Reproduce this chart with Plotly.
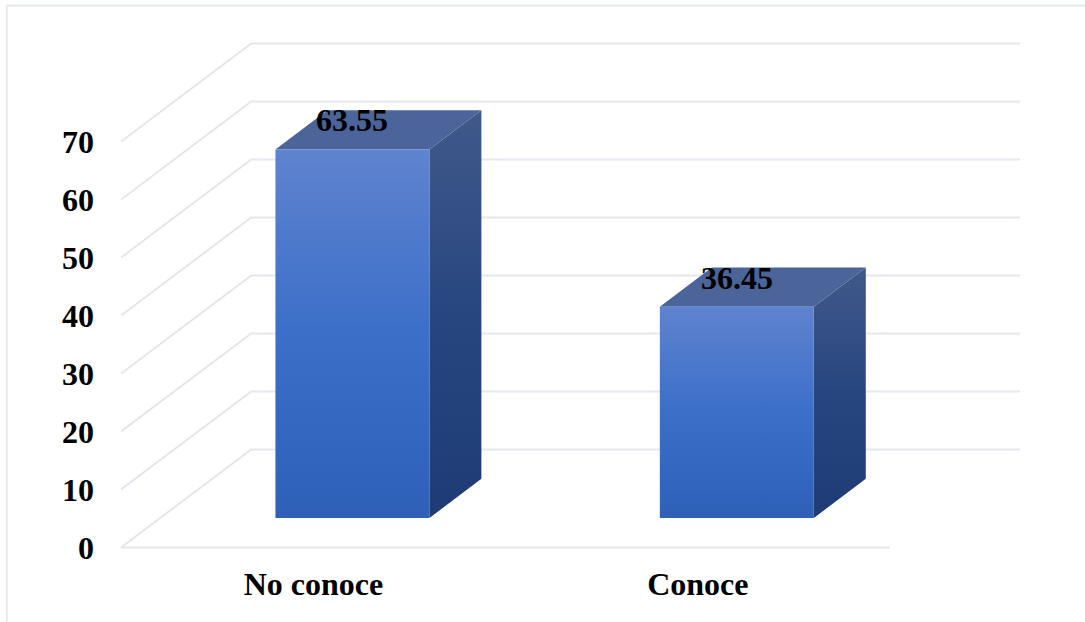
import plotly.graph_objects as go

# Chart data
categories = ["No conoce", "Conoce"]
values = [63.55, 36.45]
y_ticks = [0, 10, 20, 30, 40, 50, 60, 70]

# Oblique projection of the 3D-style chart box, in axis units
WIDTH, HEIGHT = 1085, 622
PX_PER_X = 384.5
PX_PER_Y = 5.8
X_MIN, Y_MIN = -0.05, -2.0
M_L = 121 + X_MIN * PX_PER_X
M_R = 60
M_T = 40
M_B = 74.5 + Y_MIN * PX_PER_Y
DEPTH_X = 130 / PX_PER_X
DEPTH_Y = 98 / PX_PER_Y
BAR_HALF = 77 / PX_PER_X
BAR_D0, BAR_D1 = 0.3, 0.7

GRID = "#e4e7ee"
FONT = "Liberation Serif"
FRONT_SCALE = [[0, "#2e60b8"], [0.5, "#3b6fc8"], [1, "#5f83cf"]]
SIDE_SCALE = [[0, "#1e3b75"], [0.5, "#27467f"], [1, "#41598b"]]
TOP_COLOR = "#4b6499"


def project(x, value, depth):
    return x + depth * DEPTH_X, value + depth * DEPTH_Y


def polygon(points, **kw):
    xs = [p[0] for p in points] + [points[0][0]]
    ys = [p[1] for p in points] + [points[0][1]]
    return go.Scatter(x=xs, y=ys, mode="lines", fill="toself", hoverinfo="skip",
                      showlegend=False, **kw)


def grid_line(points):
    return go.Scatter(x=[p[0] for p in points], y=[p[1] for p in points], mode="lines",
                      line=dict(color=GRID, width=2), hoverinfo="skip", showlegend=False)


fig = go.Figure()

# Floor front edge, then wall lines running from the front-left corner to the back
fig.add_trace(grid_line([project(0, 0, 0), project(2, 0, 0)]))
for t in y_ticks:
    fig.add_trace(grid_line([project(0, t, 0), project(0, t, 1), project(2, t, 1)]))

# Each column: side face, top face, front face
annotations = []
for i, (name, v) in enumerate(zip(categories, values)):
    c = i + 0.5
    l, r = c - BAR_HALF, c + BAR_HALF
    fig.add_trace(polygon(
        [project(r, 0, BAR_D0), project(r, 0, BAR_D1), project(r, v, BAR_D1), project(r, v, BAR_D0)],
        line=dict(width=0),
        fillgradient=dict(type="vertical", colorscale=SIDE_SCALE),
    ))
    fig.add_trace(polygon(
        [project(l, v, BAR_D0), project(r, v, BAR_D0), project(r, v, BAR_D1), project(l, v, BAR_D1)],
        line=dict(width=0),
        fillcolor=TOP_COLOR,
    ))
    fig.add_trace(polygon(
        [project(l, 0, BAR_D0), project(r, 0, BAR_D0), project(r, v, BAR_D0), project(l, v, BAR_D0)],
        line=dict(width=0),
        fillgradient=dict(type="vertical", colorscale=FRONT_SCALE),
    ))
    lx, ly = project(c, v, BAR_D0)
    annotations.append(dict(x=lx, y=ly, text=f"<b>{v:.2f}</b>", showarrow=False, yanchor="middle",
                            yshift=29, font=dict(family=FONT, size=32, color="black")))

PLOT_W = WIDTH - M_L - M_R
PLOT_H = HEIGHT - M_T - M_B


def paper_x(px):
    return (px - M_L) / PLOT_W


def paper_y(py):
    return (HEIGHT - M_B - py) / PLOT_H


# Thin frame along the top and left of the chart area
frame = dict(type="line", xref="paper", yref="paper", line=dict(color="#e4e8ef", width=2))
shapes = [
    dict(frame, x0=paper_x(6.5), x1=paper_x(1085), y0=paper_y(5.5), y1=paper_y(5.5)),
    dict(frame, x0=paper_x(6.5), x1=paper_x(6.5), y0=paper_y(5.5), y1=paper_y(622)),
]

fig.update_layout(
    width=WIDTH, height=HEIGHT,
    margin=dict(l=M_L, r=M_R, t=M_T, b=M_B, pad=0),
    paper_bgcolor="white", plot_bgcolor="white",
    showlegend=False,
    font=dict(family=FONT, color="black"),
    annotations=annotations, shapes=shapes,
    xaxis=dict(range=[X_MIN, X_MIN + PLOT_W / PX_PER_X], tickmode="array",
               tickvals=[i + 0.5 for i in range(len(categories))],
               ticktext=[f"<b>{c}</b>" for c in categories],
               showgrid=False, zeroline=False, showline=False, ticks="",
               tickfont=dict(family=FONT, size=32, color="black"), ticklabelstandoff=3),
    yaxis=dict(range=[Y_MIN, Y_MIN + PLOT_H / PX_PER_Y], tickmode="array",
               tickvals=y_ticks, ticktext=[f"<b>{t}</b>" for t in y_ticks],
               showgrid=False, zeroline=False, showline=False, ticks="",
               tickfont=dict(family=FONT, size=32, color="black"), ticklabelstandoff=7),
)

fig.write_html("out.html", config={"displayModeBar": False})
